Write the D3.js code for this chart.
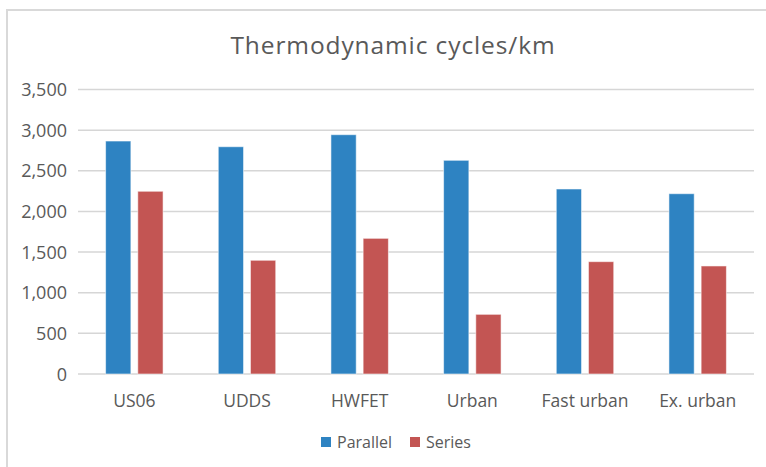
<!DOCTYPE html>
<html><head><meta charset="utf-8">
<script src="https://cdn.jsdelivr.net/npm/d3@7"></script>
<style>body{margin:0;background:#fff}svg{display:block}text{font-family:"Open Sans",sans-serif;fill:#595959}</style>
</head><body>
<script>
const categories = ["US06","UDDS","HWFET","Urban","Fast urban","Ex. urban"];
const seriesNames = ["Parallel","Series"];
const parallel = [2866, 2796, 2944, 2629, 2276, 2218];
const series = [2248, 1399, 1669, 734, 1382, 1329];
const yTicks = [0,500,1000,1500,2000,2500,3000,3500];
const colors = ["#2E83C2","#C35553"];

(function(){
const W=766,H=467;
const svg=d3.select("body").append("svg").attr("width",W).attr("height",H);
// frame
svg.append("line").attr("x1",6).attr("x2",W).attr("y1",10).attr("y2",10).attr("stroke","#d9d9d9").attr("stroke-width",2);
svg.append("line").attr("x1",7).attr("x2",7).attr("y1",9).attr("y2",H).attr("stroke","#d9d9d9").attr("stroke-width",2);

const pL=78,pR=754,pT=89.5,pB=374;
const x0=d3.scaleBand().domain(categories).range([pL,pR]).paddingInner(0.49).paddingOuter(0.245);
const x1=d3.scaleBand().domain(seriesNames).range([0,x0.bandwidth()]).paddingInner(0.215);
const y=d3.scaleLinear().domain([0,3500]).range([pB,pT]);

svg.append("text").attr("x",393).attr("y",54).attr("text-anchor","middle")
 .style("font-size","24.5px").style("letter-spacing","0.9px").text("Thermodynamic cycles/km");

const grid=svg.append("g");
grid.selectAll("line").data(yTicks).join("line")
 .attr("x1",pL).attr("x2",pR).attr("y1",d=>y(d)).attr("y2",d=>y(d))
 .attr("stroke","#d6d6d6").attr("stroke-width",1.5);

const fmt=d3.format(",");
svg.append("g").selectAll("text").data(yTicks).join("text")
 .attr("x",67).attr("y",d=>y(d)+6.5).attr("text-anchor","end").style("font-size","18px").text(d=>fmt(d));

const data=categories.map((c,i)=>({c,vals:[parallel[i],series[i]]}));
const g=svg.append("g").selectAll("g").data(data).join("g").attr("transform",d=>`translate(${x0(d.c)},0)`);
g.selectAll("rect").data(d=>d.vals.map((v,j)=>({s:seriesNames[j],v,j}))).join("rect")
 .attr("x",d=>x1(d.s)).attr("width",x1.bandwidth())
 .attr("y",d=>y(d.v)).attr("height",d=>y(0)-y(d.v))
 .attr("fill",d=>colors[d.j]).attr("stroke","rgba(255,255,255,0.55)").attr("stroke-width",1);

svg.append("g").selectAll("text").data(categories).join("text")
 .attr("x",d=>x0(d)+x0.bandwidth()/2).attr("y",407).attr("text-anchor","middle").style("font-size","17.5px").text(d=>d);

// legend
const leg=[{n:"Parallel",x:321},{n:"Series",x:410}];
const lg=svg.append("g").selectAll("g").data(leg).join("g");
lg.append("rect").attr("x",d=>d.x).attr("y",437).attr("width",10).attr("height",10).attr("fill",(d,i)=>colors[i]);
lg.append("text").attr("x",d=>d.x+16).attr("y",447.5).style("font-size","16px").text(d=>d.n);
})();
</script>
</body></html>
